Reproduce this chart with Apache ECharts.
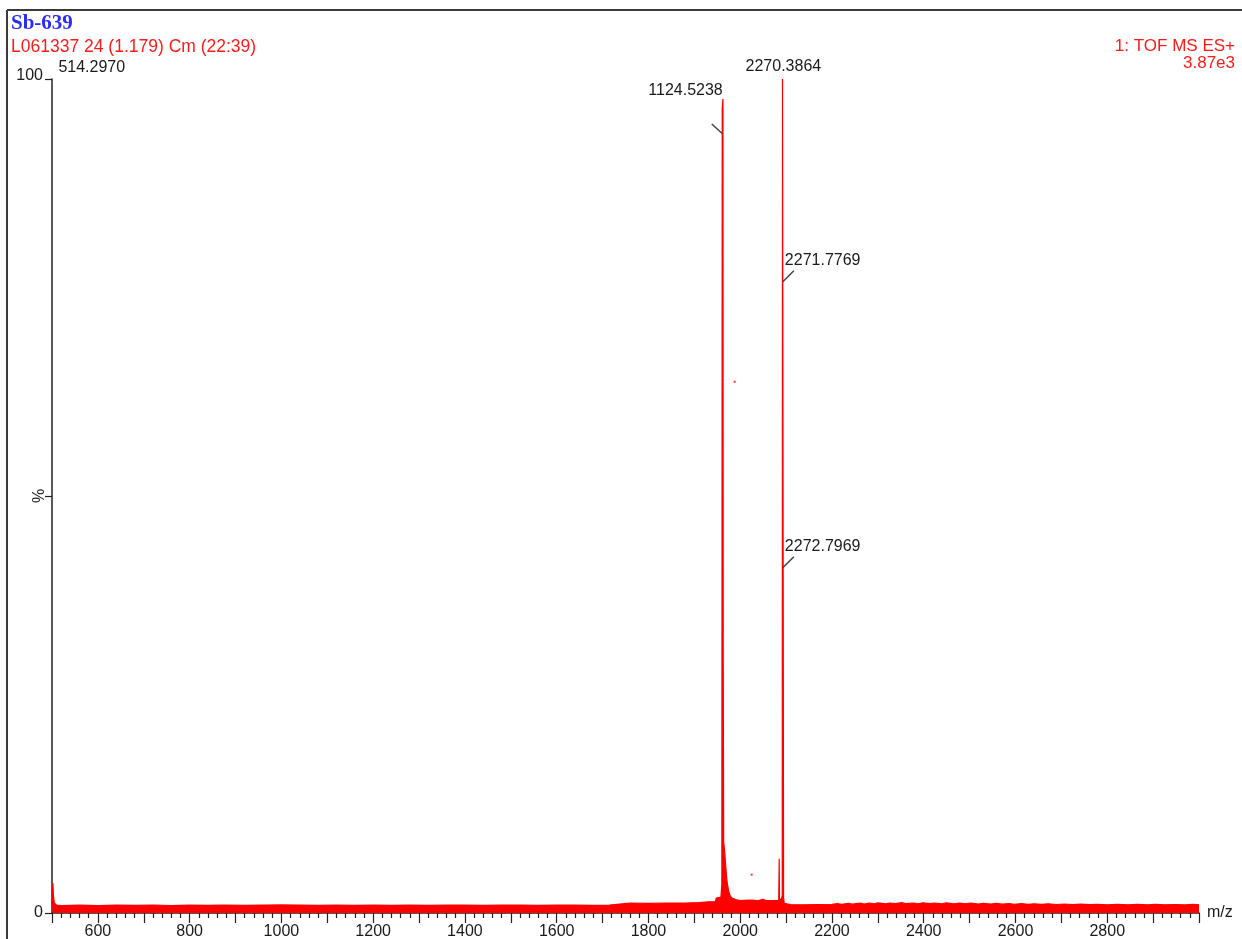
<!DOCTYPE html>
<html>
<head>
<meta charset="utf-8">
<title>Sb-639</title>
<script src="https://cdn.jsdelivr.net/npm/echarts@6/dist/echarts.min.js"></script>
<style>
  html, body { margin: 0; padding: 0; background: #ffffff; }
  #chart { width: 1242px; height: 939px; }
</style>
</head>
<body>
<div id="chart"></div>
<script>
// Header text of the spectrum report
const sampleName = 'Sb-639';
const scanInfo = 'L061337 24 (1.179) Cm (22:39)';
const functionInfo = '1: TOF MS ES+';
const baseIntensity = '3.87e3';

// Axis ranges and tick labels
const mzRange = [500, 3000];
const mzTickLabels = [600, 800, 1000, 1200, 1400, 1600, 1800, 2000, 2200, 2400, 2600, 2800];
const pctTickLabels = [0, 100];

// Spectrum trace, [m/z, relative intensity %]
const lowMassTrace = [
  [500, 0.9], [501, 2.6], [502, 3.6], [503, 2.2], [505, 1.2], [510, 0.95],
  [520, 0.9], [560, 0.95], [600, 0.9], [640, 0.95], [680, 0.92], [720, 0.96],
  [760, 0.9], [800, 0.95], [840, 0.92], [868, 0.95], [872, 1.15], [876, 0.95],
  [920, 0.92], [960, 0.95], [1000, 0.97], [1040, 0.95], [1080, 0.92], [1120, 0.96],
  [1160, 0.92], [1200, 0.95], [1240, 0.92], [1280, 0.95], [1320, 0.92], [1360, 0.96],
  [1400, 0.95], [1440, 0.92], [1480, 0.95], [1520, 0.96], [1560, 0.92], [1600, 0.95],
  [1640, 0.95], [1680, 0.92], [1715, 0.95]
];
const clusterTrace = [
  [1718, 1.15], [1760, 1.2], [1800, 1.15], [1840, 1.2], [1880, 1.2], [1910, 1.25],
  [1930, 1.35], [1946, 1.35], [1948, 1.8], [1958, 1.9], [1960, 3.5],
  [1960.8, 96.5], [1962.4, 97.6], [1963, 30], [1964, 8.5], [1966, 7.5], [1968, 6],
  [1970, 4.5], [1972, 3.5], [1975, 2.6], [1978, 2.1], [1982, 1.8], [1990, 1.6],
  [2000, 1.5], [2020, 1.55], [2040, 1.5], [2050, 1.65], [2056, 1.5], [2070, 1.5],
  [2084, 1.5], [2085, 6.5], [2085.6, 1.6], [2090, 1.7], [2091.6, 2.1],
  [2092.2, 100], [2094, 100], [2094.6, 1.8], [2096, 1.15]
];
const highMassTrace = [
  [2110, 1.0], [2140, 0.98], [2170, 1.02], [2200, 1.05], [2212, 1.12], [2221, 1.04],
  [2236, 1.15], [2244, 1.06], [2262, 1.18], [2270, 1.08], [2281, 1.2], [2293, 1.1],
  [2300, 1.22], [2317, 1.1], [2326, 1.2], [2338, 1.12], [2352, 1.24], [2361, 1.12],
  [2377, 1.2], [2389, 1.1], [2398, 1.22], [2414, 1.12], [2423, 1.2], [2440, 1.1],
  [2449, 1.22], [2466, 1.1], [2478, 1.18], [2490, 1.1], [2503, 1.2], [2519, 1.08],
  [2530, 1.16], [2546, 1.08], [2558, 1.15], [2571, 1.06], [2586, 1.14], [2597, 1.05],
  [2613, 1.12], [2628, 1.04], [2640, 1.1], [2657, 1.04], [2671, 1.1], [2690, 1.02],
  [2706, 1.08], [2725, 1.0], [2741, 1.06], [2762, 1.0], [2779, 1.05], [2800, 0.99],
  [2822, 1.04], [2845, 0.98], [2866, 1.04], [2888, 0.98], [2905, 1.05], [2925, 0.98],
  [2948, 1.02], [2970, 0.97], [2988, 1.03], [3000, 0.98]
];
// Isolated single-scan points
const strayPoints = [[1988, 63.7], [2025, 4.6]];

// Peak annotations
const peakLabels = ['514.2970', '1124.5238', '2270.3864', '2271.7769', '2272.7969'];
const peakLabelMz = [503, 1962, 2093, 2093, 2093];
const peakLabelPct = [3.6, 93.4, 100, 75.7, 41.4];
const peakLabelSide = ['pinned', 'left', 'top', 'right', 'right'];

const spectrum = lowMassTrace.concat(clusterTrace, highMassTrace);
const annotationData = peakLabels.map((t, i) => [peakLabelMz[i], peakLabelPct[i]]);

const SANS = '"Liberation Sans", Arial, Helvetica, sans-serif';
const TEXT = '#1a1a1a';
const RED = '#ff0000';
const AXIS = '#222222';

const chart = echarts.init(document.getElementById('chart'), null, { renderer: 'canvas' });

chart.setOption({
  animation: false,
  backgroundColor: '#ffffff',
  grid: { left: 52, right: 43, top: 79, bottom: 26, containLabel: false, outerBoundsMode: 'none' },
  xAxis: {
    type: 'value',
    min: mzRange[0],
    max: mzRange[1],
    interval: 100,
    name: 'm/z',
    nameLocation: 'end',
    nameGap: 8,
    nameTextStyle: { color: TEXT, fontSize: 16, fontFamily: SANS, verticalAlign: 'middle' },
    axisLine: { show: true, onZero: false, lineStyle: { color: AXIS, width: 1.5 } },
    axisTick: { show: true, inside: false, length: 10, lineStyle: { color: AXIS, width: 1.2 } },
    minorTick: { show: true, splitNumber: 5, length: 5, lineStyle: { color: AXIS, width: 1.2 } },
    splitLine: { show: false },
    minorSplitLine: { show: false },
    axisLabel: {
      margin: 11,
      color: TEXT,
      fontSize: 16,
      fontFamily: SANS,
      formatter: v => (mzTickLabels.indexOf(v) >= 0 ? String(v) : '')
    }
  },
  yAxis: {
    type: 'value',
    min: 0,
    max: 100,
    interval: 50,
    name: '%',
    nameLocation: 'middle',
    nameRotate: 90,
    nameGap: 4,
    nameMoveOverlap: false,
    nameTextStyle: { color: TEXT, fontSize: 16, fontFamily: SANS },
    axisLine: { show: true, lineStyle: { color: AXIS, width: 1.5 } },
    axisTick: { show: true, inside: false, length: 7, lineStyle: { color: AXIS, width: 1.2 } },
    splitLine: { show: false },
    axisLabel: {
      margin: 9,
      color: TEXT,
      fontSize: 16,
      fontFamily: SANS,
      formatter: v => {
        if (pctTickLabels.indexOf(v) < 0) return '';
        return v === 100 ? '{hi|' + v + '}' : String(v);
      },
      rich: { hi: { color: TEXT, fontSize: 16, fontFamily: SANS, padding: [0, 0, 6, 0] } }
    }
  },
  series: [
    {
      name: 'spectrum',
      type: 'line',
      data: spectrum,
      showSymbol: false,
      symbol: 'none',
      sampling: null,
      smooth: false,
      lineStyle: { color: RED, width: 1.2 },
      areaStyle: { color: RED, opacity: 1 },
      z: 3
    },
    {
      name: 'stray',
      type: 'scatter',
      data: strayPoints,
      symbol: 'rect',
      symbolSize: 2,
      itemStyle: { color: RED },
      z: 3
    },
    {
      name: 'peak labels',
      type: 'custom',
      data: annotationData,
      encode: { x: 0, y: 1 },
      clip: false,
      z: 10,
      renderItem: (params, api) => {
        const i = params.dataIndex;
        const side = peakLabelSide[i];
        const p = api.coord([api.value(0), api.value(1)]);
        const children = [];
        let tx, ty, align;
        if (side === 'pinned') {
          const top = api.coord([api.value(0), 100]);
          tx = top[0] + 5; ty = top[1] - 11; align = 'left';
        } else if (side === 'top') {
          tx = p[0] + 0.5; ty = p[1] - 12; align = 'center';
        } else if (side === 'left') {
          children.push({
            type: 'line',
            shape: { x1: p[0], y1: p[1], x2: p[0] - 11, y2: p[1] - 10 },
            style: { stroke: '#444444', lineWidth: 1.5 }
          });
          tx = p[0]; ty = p[1] - 43.5; align = 'right';
        } else {
          children.push({
            type: 'line',
            shape: { x1: p[0], y1: p[1], x2: p[0] + 11, y2: p[1] - 11 },
            style: { stroke: '#444444', lineWidth: 1.5 }
          });
          tx = p[0] + 2; ty = p[1] - 21; align = 'left';
        }
        children.push({
          type: 'text',
          style: {
            x: tx, y: ty, text: peakLabels[i],
            font: '16px ' + SANS, fill: TEXT,
            textAlign: align, textVerticalAlign: 'middle'
          }
        });
        return { type: 'group', children };
      }
    }
  ],
  graphic: [
    // report frame
    { type: 'line', shape: { x1: 7, y1: 10, x2: 1242, y2: 10 }, style: { stroke: '#3a3a3a', lineWidth: 2 } },
    { type: 'line', shape: { x1: 7, y1: 10, x2: 7, y2: 939 }, style: { stroke: '#3a3a3a', lineWidth: 2 } },
    {
      type: 'text', x: 11, y: 24,
      style: { text: sampleName, font: 'bold 21px "Liberation Serif", "Times New Roman", serif', fill: '#2b2bff', textAlign: 'left', textVerticalAlign: 'middle' }
    },
    {
      type: 'text', x: 11, y: 47.5,
      style: { text: scanInfo, font: '17.5px ' + SANS, fill: '#ff1a1a', textAlign: 'left', textVerticalAlign: 'middle' }
    },
    {
      type: 'text', x: 1235, y: 46.5,
      style: { text: functionInfo, font: '17px ' + SANS, fill: '#ff1a1a', textAlign: 'right', textVerticalAlign: 'middle' }
    },
    {
      type: 'text', x: 1235, y: 63,
      style: { text: baseIntensity, font: '17px ' + SANS, fill: '#ff1a1a', textAlign: 'right', textVerticalAlign: 'middle' }
    }
  ]
});
</script>
</body>
</html>
